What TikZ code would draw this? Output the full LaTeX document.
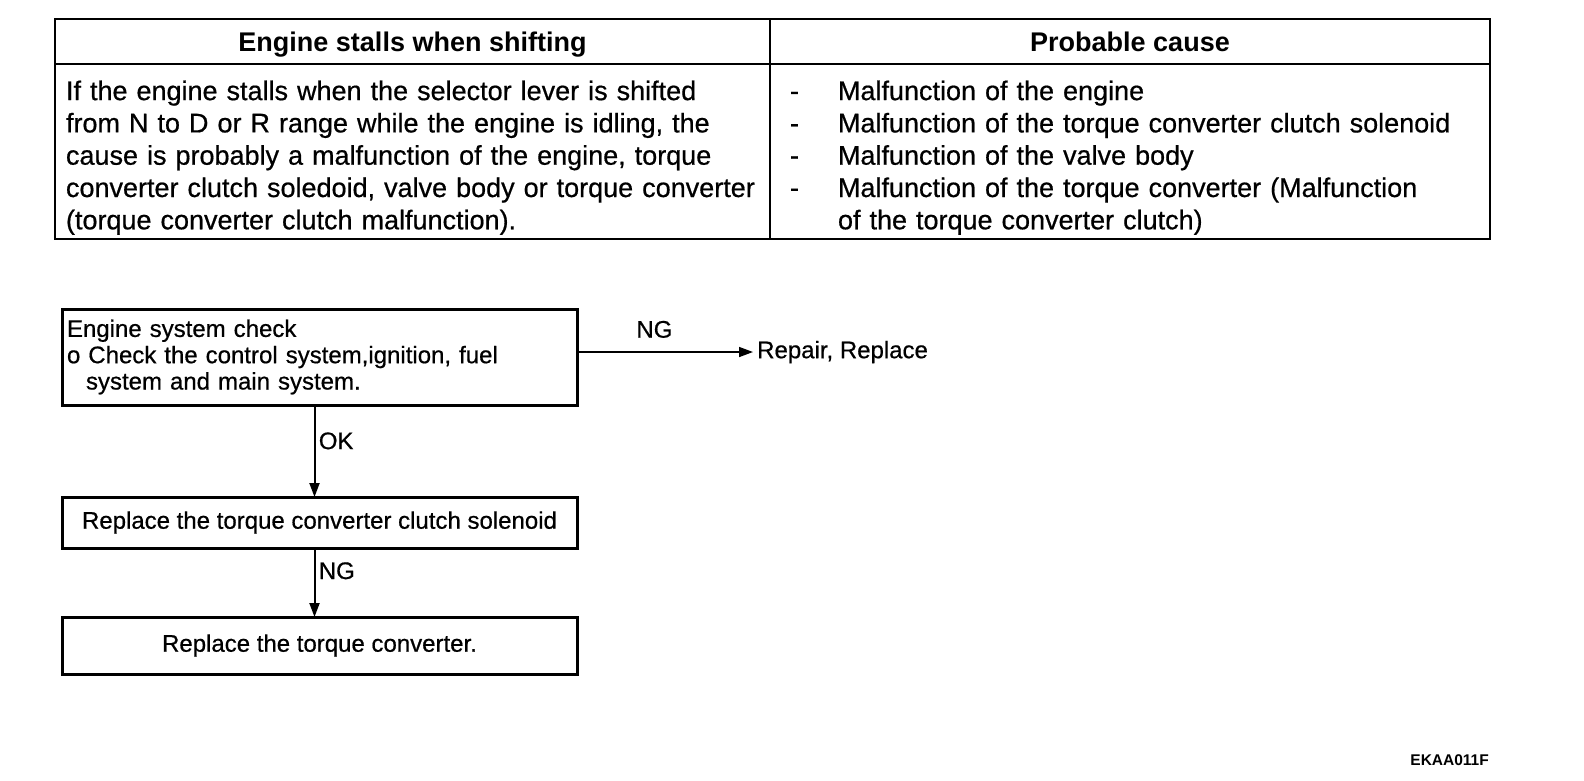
\documentclass[tikz,border=0pt]{standalone}
\usepackage{fontspec}
\setmainfont{Liberation Sans}
\newfontfamily\scanfont{Liberation Sans}[FakeBold=0.6]
\usetikzlibrary{arrows.meta,positioning}

\begin{document}
\begin{tikzpicture}[
			x=1pt, y=-1pt,
			>={Triangle[length=14pt,width=10pt]},
			cell/.style={
				draw,
				line width=1.6pt,
				outer sep=0pt,
				inner sep=0pt
			},
			hdr/.style={
				cell,
				minimum height=45pt,
				text height=22pt,
				text depth=3pt,
				font=\fontsize{27}{32}\selectfont\bfseries
			},
			body/.style={
				cell,
				minimum height=175pt,
				align=left,
				font=\scanfont\fontsize{27}{32.3}\selectfont
			},
			box/.style={
				draw,
				line width=3pt,
				outer sep=0pt,
				minimum width=515pt,
				font=\scanfont\fontsize{24}{26.3}\selectfont
			},
			lbl/.style={
				font=\scanfont\fontsize{24}{26}\selectfont
			}
			]
			
			\useasboundingbox (0,0) rectangle (1584,780);
			
			\node[hdr,minimum width=715pt,anchor=north west] (hdrL) at (55,19)
			{Engine stalls when shifting};
			
			\node[hdr,minimum width=720pt,right=0pt of hdrL] (hdrR)
			{Probable cause};
			
			\node[body,text width=693pt,inner xsep=11pt,below=0pt of hdrL] (bodyL)
			{\rule{0pt}{32pt}If the engine stalls when the selector lever is shifted\\
			from N to D or R range while the engine is idling, the\\
			cause is probably a malfunction of the engine, torque\\
			converter clutch soledoid, valve body or torque converter\\
			(torque converter clutch malfunction).};
			
			\node[body,text width=680pt,inner xsep=20pt,below=0pt of hdrR] (bodyR)
			{\rule{0pt}{32pt}\makebox[48pt][l]{-}Malfunction of the engine\\
			\makebox[48pt][l]{-}Malfunction of the torque converter clutch solenoid\\
			\makebox[48pt][l]{-}Malfunction of the valve body\\
			\makebox[48pt][l]{-}Malfunction of the torque converter (Malfunction\\
			\hspace*{48pt}of the torque converter clutch)};
			
			\node[box,minimum height=96pt,text width=505pt,inner xsep=5pt,align=left,anchor=north west] (check) at (62,309)
			{Engine system check\\
			o Check the control system,ignition, fuel\\
			\hspace*{19pt}system and main system.};
			
			\node[box,minimum height=51pt,below=92pt of check] (solenoid)
			{Replace the torque converter clutch solenoid};
			
			\node[box,minimum height=57pt,below=69pt of solenoid] (converter)
			{Replace the torque converter.};
			
			\node[lbl,inner xsep=4pt,anchor=west,right=176pt of check,yshift=5pt] (repair)
			{Repair, Replace};
			
			\draw[->,line width=1.5pt] (check.east |- repair.west) -- node[lbl,above=10pt,pos=0.44] {NG} (repair.west);
			\draw[->,line width=2pt] ([xshift=-5pt]check.south) -- node[lbl,right,pos=0.39] {OK} ([xshift=-5pt]solenoid.north);
			\draw[->,line width=2pt] ([xshift=-5pt]solenoid.south) -- node[lbl,right,pos=0.33] {NG} ([xshift=-5pt]converter.north);
			
			\node[anchor=east,inner sep=0pt,font=\fontsize{15.5}{17}\selectfont\bfseries] (code) at (1489,760)
			{EKAA011F};
			
		\end{tikzpicture}
\end{document}
